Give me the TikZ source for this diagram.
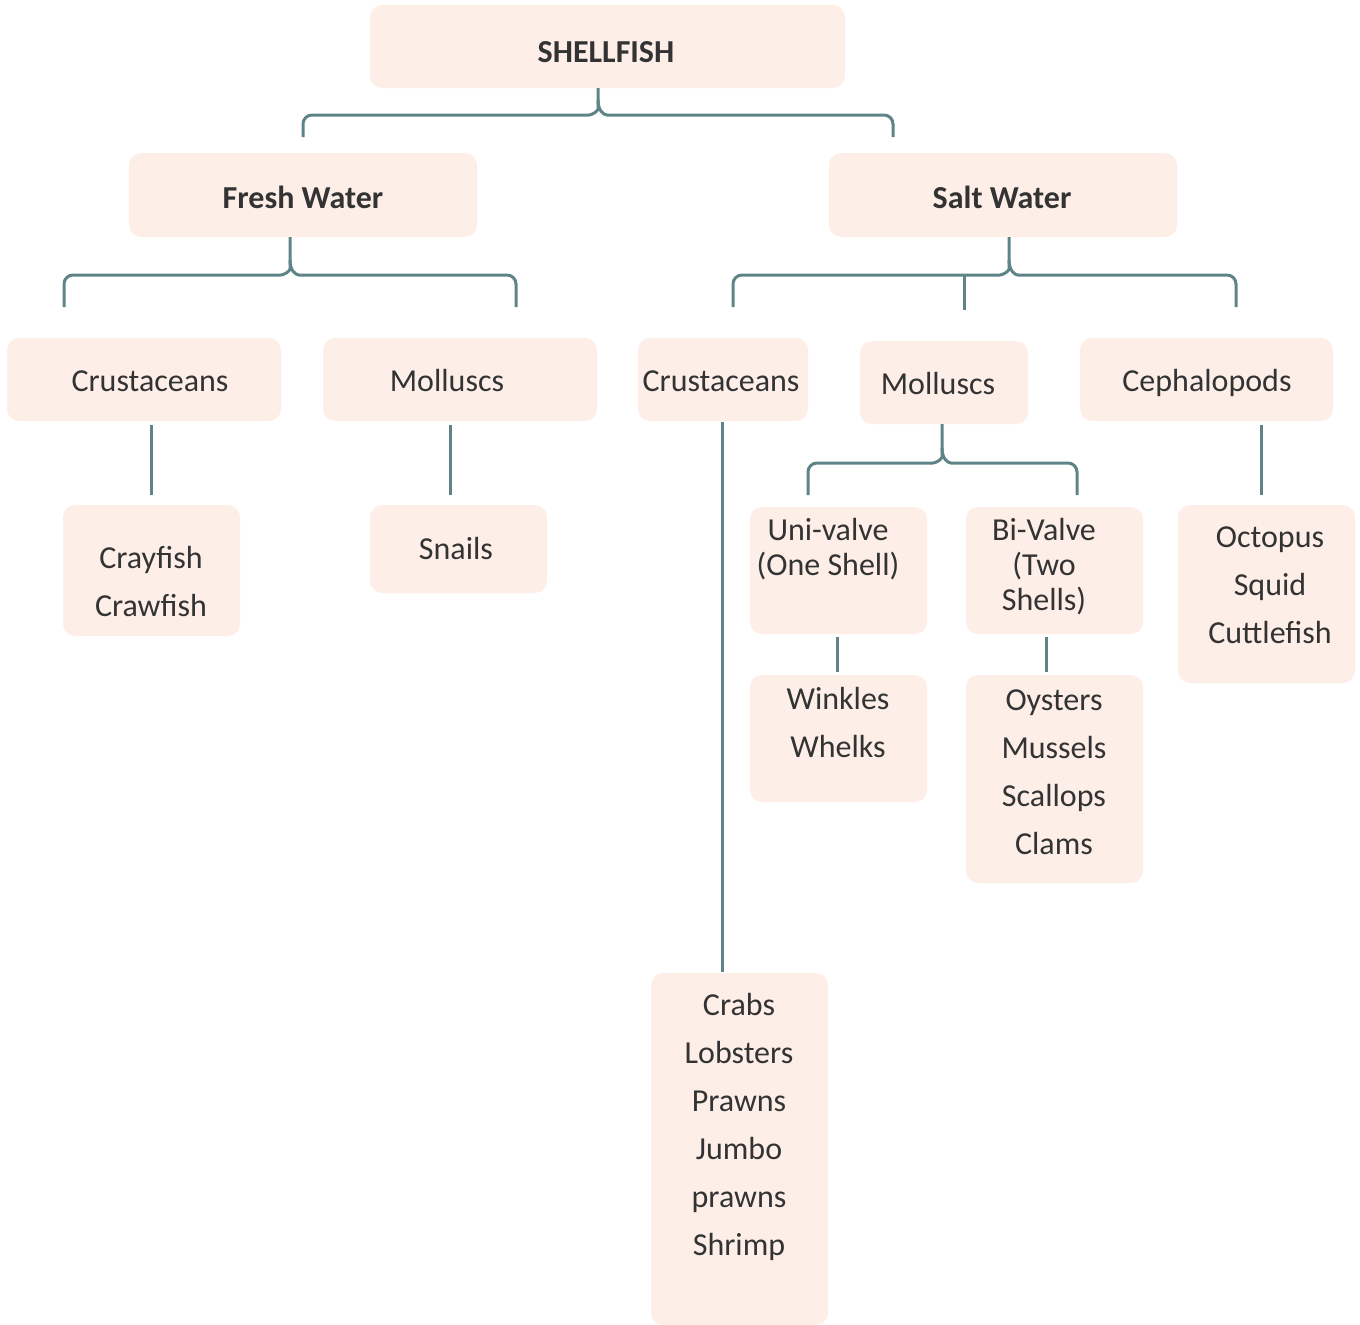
\documentclass[tikz,border=0pt]{standalone}
\usepackage{fontspec}
\setmainfont{Carlito}
\usepackage{tikz}
\usetikzlibrary{positioning,calc}
\definecolor{boxfill}{HTML}{FDEFE8}
\definecolor{linec}{HTML}{5F8487}
\definecolor{ink}{HTML}{333333}

\tikzset{
  box/.style={fill=boxfill, rounded corners=12pt, inner sep=0pt},
  lbl/.style={font=\fontsize{32}{48}\selectfont, text=ink, align=center, inner sep=0pt},
  tight/.style={font=\fontsize{32}{35}\selectfont},
  head/.style={font=\fontsize{32}{48}\selectfont\bfseries},
  link/.style={draw=linec, line width=3pt, rounded corners=9pt}
}

\begin{document}
\begin{tikzpicture}[x=1pt,y=-1pt]
  \useasboundingbox (0,0) rectangle (1360,1325);

  % Boxes
  \node[box, minimum width=475, minimum height=83] (shellbox) at (607.5,46.5) {};
  \node[box, minimum width=348, minimum height=84] (freshbox) at (303,195) {};
  \node[box, minimum width=348, minimum height=84] (saltbox) at (1003,195) {};
  \node[box, minimum width=274, minimum height=83] (fwcrustbox) at (144,379.5) {};
  \node[box, minimum width=274, minimum height=83] (fwmollbox) at (460,379.5) {};
  \node[box, minimum width=170, minimum height=83] (swcrustbox) at (723,379.5) {};
  \node[box, minimum width=168, minimum height=83] (swmollbox) at (944,382.5) {};
  \node[box, minimum width=253, minimum height=83] (cephbox) at (1206.5,379.5) {};
  \node[box, minimum width=177, minimum height=131] (craybox) at (151.5,570.5) {};
  \node[box, minimum width=177, minimum height=88] (snailbox) at (458.5,549) {};
  \node[box, minimum width=177, minimum height=127] (unibox) at (838.5,570.5) {};
  \node[box, minimum width=177, minimum height=127] (bibox) at (1054.5,570.5) {};
  \node[box, minimum width=177, minimum height=178] (octobox) at (1266.5,594) {};
  \node[box, minimum width=177, minimum height=127] (winkbox) at (838.5,738.5) {};
  \node[box, minimum width=177, minimum height=208] (oystbox) at (1054.5,779) {};
  \node[box, minimum width=177, minimum height=352] (crabbox) at (739.5,1149) {};

  % Texts
  \node[lbl, head] (shell) at (606,52) {SHELLFISH};
  \node[lbl, head] (fresh) at (303,197) {Fresh Water};
  \node[lbl, head] (salt) at (1002,197) {Salt Water};
  \node[lbl] (fwcrust) at (150,381) {Crustaceans};
  \node[lbl] (fwmoll) at (447,381) {Molluscs};
  \node[lbl] (swcrust) at (721,381) {Crustaceans};
  \node[lbl] (swmoll) at (938,384) {Molluscs};
  \node[lbl] (ceph) at (1207,383) {Cephalopods};
  \node[lbl] (cray) at (151,582) {Crayfish\\Crawfish};
  \node[lbl] (snail) at (456,549) {Snails};
  \node[lbl, tight] (uni) at (828,549) {Uni-valve\\(One Shell)};
  \node[lbl, tight] (bi) at (1044,567) {Bi-Valve\\(Two\\Shells)};
  \node[lbl] (octo) at (1270,585) {Octopus\\Squid\\Cuttlefish};
  \node[lbl] (wink) at (838,722) {Winkles\\Whelks};
  \node[lbl] (oyst) at (1054,772) {Oysters\\Mussels\\Scallops\\Clams};
  \node[lbl] (crab) at (739,1127) {Crabs\\Lobsters\\Prawns\\Jumbo\\prawns\\Shrimp};

  % Leg ends
  \coordinate (fwleg) at (303,137);
  \coordinate (swleg) at (893,137);
  \coordinate (fwcrustleg) at (64,307);
  \coordinate (fwmollleg) at (516,307);
  \coordinate (swcrustleg) at (733,307);
  \coordinate (swmollleg) at (964,310);
  \coordinate (cephleg) at (1236,307);
  \coordinate (unileg) at (808,495);
  \coordinate (bileg) at (1077,495);

  % SHELLFISH brace
  \draw[link] ([xshift=-9.5pt]shellbox.south) -- (598,100)
    .. controls (598,111) and (592,115) .. (580,115) -- (303,115) -- (fwleg);
  \draw[link] (598,100) .. controls (598,111) and (604,115) .. (616,115)
    -- (893,115) -- (swleg);

  % Fresh Water brace
  \draw[link] ([xshift=-13pt]freshbox.south) -- (290,260)
    .. controls (290,271) and (284,275) .. (272,275) -- (64,275) -- (fwcrustleg);
  \draw[link] (290,260) .. controls (290,271) and (296,275) .. (308,275)
    -- (516,275) -- (fwmollleg);

  % Salt Water brace
  \draw[link] ([xshift=6pt]saltbox.south) -- (1009,260)
    .. controls (1009,271) and (1003,275) .. (991,275) -- (733,275) -- (swcrustleg);
  \draw[link] (1009,260) .. controls (1009,271) and (1015,275) .. (1027,275)
    -- (1236,275) -- (cephleg);
  \draw[link] (964,275) -- (swmollleg);

  % Molluscs brace
  \draw[link] ([xshift=-2pt]swmollbox.south) -- (942,448)
    .. controls (942,459) and (936,463) .. (924,463) -- (808,463) -- (unileg);
  \draw[link] (942,448) .. controls (942,459) and (948,463) .. (960,463)
    -- (1077,463) -- (bileg);

  % Straight links
  \draw[link] ([yshift=-4pt]fwcrustbox.south -| craybox.north) -- ([yshift=10pt]craybox.north);
  \draw[link] ([yshift=-4pt]fwmollbox.south -| 450,0) -- ([yshift=10pt]snailbox.north -| 450,0);
  \draw[link] ([yshift=-1pt]swcrustbox.south -| 722,0) -- ([yshift=1pt]crabbox.north -| 722,0);
  \draw[link] ([yshift=-4pt]cephbox.south -| 1261,0) -- ([yshift=10pt]octobox.north -| 1261,0);
  \draw[link] ([yshift=-3pt]unibox.south -| 837,0) -- ([yshift=3pt]winkbox.north -| 837,0);
  \draw[link] ([yshift=-3pt]bibox.south -| 1046,0) -- ([yshift=3pt]oystbox.north -| 1046,0);
\end{tikzpicture}
\end{document}
